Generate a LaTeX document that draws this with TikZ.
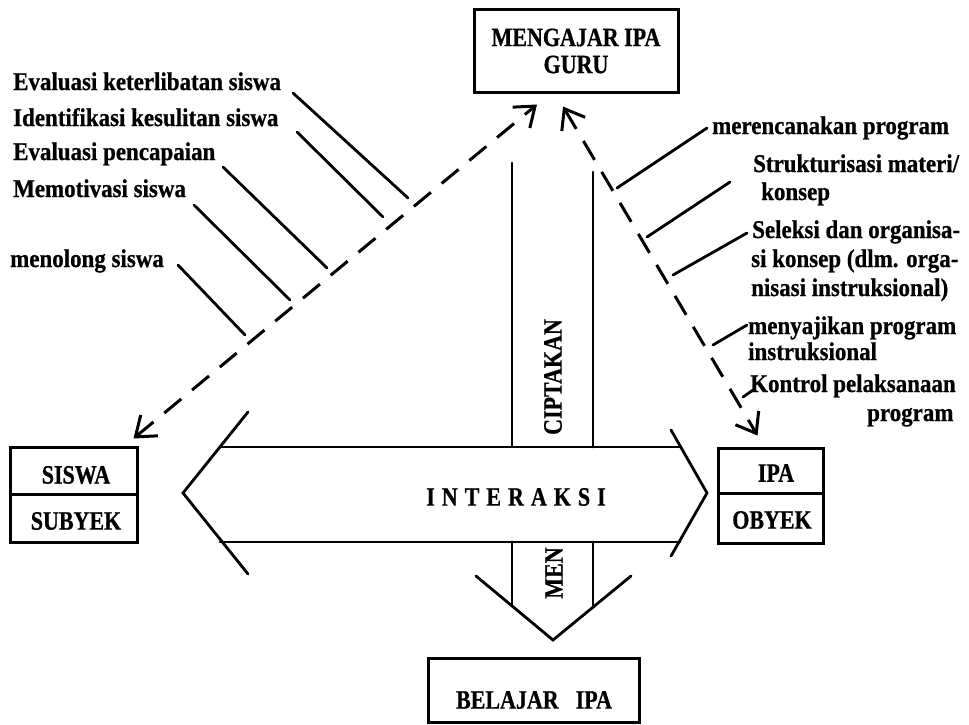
\documentclass[tikz,border=0pt]{standalone}
\usepackage{fontspec}
\setmainfont{Liberation Serif}
\newfontfamily\capfont{Liberation Serif}[FakeStretch=0.83,FakeBold=0.7]
\newfontfamily\labfont{Liberation Serif}[FakeStretch=0.9,FakeBold=0.7]
\usetikzlibrary{arrows.meta,calc}
\begin{document}
\begin{tikzpicture}[x=1pt,y=-1pt,
  ln/.style={line width=2.8pt,line cap=round},
  frame/.style={draw,line width=3pt,inner sep=0pt},
  dsh/.style={line width=3pt,dash pattern=on 22pt off 14pt,
    {Straight Barb[length=18pt,width=27pt]}-{Straight Barb[length=18pt,width=27pt]}},
  capt/.style={font=\capfont\bfseries\fontsize{26.5}{27}\selectfont,inner sep=0pt},
  lab/.style={font=\labfont\bfseries\fontsize{25.5}{28}\selectfont,inner sep=0pt,anchor=base west},
]
\useasboundingbox[fill=white] (0,0) rectangle (969,725);

% --- the four boxes ---
\node[frame,capt,align=center,minimum width=204pt,minimum height=82pt] (guru) at (576,51) {MENGAJAR IPA\\GURU};

\node[frame,minimum width=127pt,minimum height=95pt] (sis) at (73.5,494.5) {};
\draw[line width=3pt] (sis.west) -- (sis.east);
\node[capt] (sisT) at (76,475) {SISWA};
\node[capt] (subT) at (76,521) {SUBYEK};

\node[frame,minimum width=105pt,minimum height=95pt] (ipa) at (770.5,495.5) {};
\draw[line width=3pt] ($(ipa.west)+(0,-2)$) -- ($(ipa.east)+(0,-2)$);
\node[capt] (ipaT) at (776,473) {IPA};
\node[capt] (obyT) at (772,520) {OBYEK};

\node[frame,minimum width=211pt,minimum height=64pt] (bel) at (533.5,690) {};
\node[capt] (belT) at (534,700) {BELAJAR\hspace{17pt}IPA};

% --- horizontal double arrow (interaction) ---
\draw[ln] (248,412) -- (183,493) -- (248,574);
\draw[ln] (671,430) -- (707,493) -- (671,556);
\draw[ln] (220,447) -- (680,447);
\draw[ln] (220,542) -- (680,542);
\node[capt] (inter) at (516,497) {I\hspace{7pt}N\hspace{7pt}T\hspace{7pt}E\hspace{7pt}R\hspace{7pt}A\hspace{7pt}K\hspace{7pt}S\hspace{7pt}I};

% --- vertical arrow (menciptakan) ---
\draw[ln] (512,163) -- (512,447);
\draw[ln] (593,172) -- (593,447);
\draw[ln] (512,542) -- (512,606);
\draw[ln] (593,542) -- (593,607);
\draw[ln] (476,576) -- (553,640) -- (631,576);
\node[capt,rotate=90] (cip) at (553,377) {CIPTAKAN};
\node[capt,rotate=90] (men) at (554,573) {MEN};

% --- dashed two-way arrows ---
\coordinate (dL1) at ($(sis.north east)+(-5,-7)$);
\coordinate (dL2) at ($(guru.south)+(-39,11)$);
\draw[dsh] (dL1) -- (dL2);
\coordinate (dR1) at ($(guru.south)+(-13,13)$);
\coordinate (dR2) at ($(ipa.north)+(-13,-11)$);
\draw[dsh] (dR1) -- (dR2);

% --- teacher activities towards the student ---
\node[lab] (l1) at (13,90) {Evaluasi keterlibatan siswa};
\node[lab] (l2) at (13,126) {Identifikasi kesulitan siswa};
\node[lab] (l3) at (13,160) {Evaluasi pencapaian};
\node[lab] (l4) at (13,197) {Memotivasi siswa};
\node[lab] (l5) at (10,267) {menolong siswa};
\draw[ln] ($(l1.base west)+(280,3)$) -- ++(115,105);
\draw[ln] ($(l2.base west)+(284,6)$) -- ++(86,85);
\draw[ln] ($(l3.base west)+(210,7)$) -- ++(104,101);
\draw[ln] ($(l4.base west)+(181,8)$) -- ++(96,95);
\draw[ln] ($(l5.base west)+(168,-2)$) -- ++(67,70);

% --- teacher activities towards the subject matter ---
\node[lab] (r1) at (712,134) {merencanakan program};
\node[lab] (r2) at (753,172) {Strukturisasi materi/};
\node[lab] (r2b) at (761,200) {konsep};
\node[lab] (r3) at (752,238) {Seleksi dan organisa-};
\node[lab] (r3b) at (751,267) {si konsep (dlm. orga-};
\node[lab] (r3c) at (751,296) {nisasi instruksional)};
\node[lab] (r4) at (748,334) {menyajikan program};
\node[lab] (r4b) at (748,360) {instruksional};
\node[lab] (r5) at (750,392) {Kontrol pelaksanaan};
\node[lab] (r5b) at (867,421) {program};
\draw[ln] ($(r1.base west)+(-5,-6)$) -- ++(-90,60);
\draw[ln] ($(r2.base west)+(-23,10)$) -- ++(-83,55);
\draw[ln] ($(r3.base west)+(-5,-5)$) -- ++(-74,42);
\draw[ln] ($(r4.base west)+(-1,-9)$) -- ++(-34,20);
\draw[ln] ($(r5.base west)+(3,-2)$) -- ++(-10,7);

\end{tikzpicture}
\end{document}
